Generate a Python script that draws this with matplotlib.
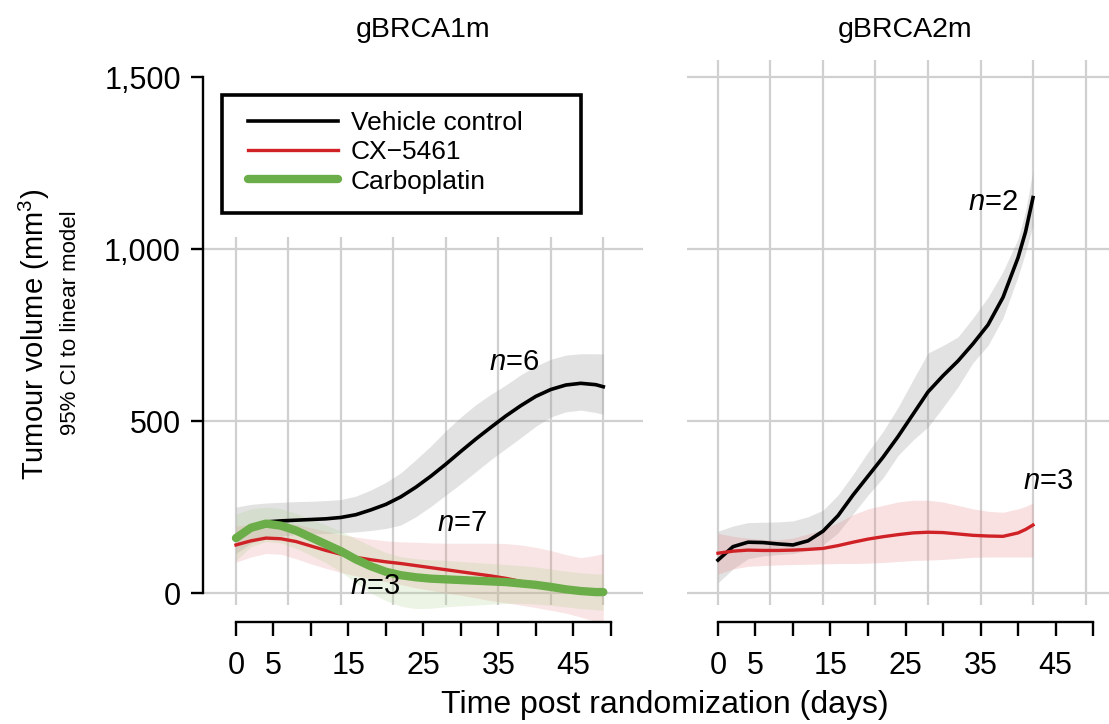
import numpy as np
import matplotlib
matplotlib.use("Agg")
from matplotlib import pyplot as plt
from matplotlib import transforms
from matplotlib.patches import Rectangle

plt.rcParams['font.family'] = ['Liberation Sans', 'DejaVu Sans']
plt.rcParams['mathtext.fontset'] = 'custom'
plt.rcParams['mathtext.rm'] = 'Liberation Sans'
plt.rcParams['mathtext.it'] = 'Liberation Sans:italic'

# gBRCA1m panel
days1 = [0, 2, 4, 6, 8, 10, 12, 14, 16, 18, 20, 22, 24, 26, 28, 30, 32, 34, 36, 38, 40, 42, 44, 46, 48, 49]
veh1 = [165, 195, 207, 210, 212, 214, 216, 220, 228, 242, 258, 280, 308, 340, 375, 412,
        448, 482, 515, 545, 572, 592, 605, 610, 606, 600]
veh1_hi = [250, 258, 262, 264, 266, 267, 269, 272, 282, 300, 322, 350, 388, 428, 472, 512,
           548, 578, 605, 635, 660, 680, 692, 696, 696, 695]
veh1_lo = [115, 145, 160, 166, 170, 172, 173, 175, 178, 182, 188, 198, 222, 252, 285, 318,
           353, 388, 420, 452, 485, 512, 527, 532, 525, 520]
cx1 = [140, 152, 160, 158, 150, 137, 124, 113, 104, 97, 91, 86, 80, 74, 68, 62,
       56, 50, 43, 34, 25, 18, 12, 8, 5, 5]
cx1_hi = [195, 200, 205, 206, 200, 190, 180, 170, 163, 157, 152, 149, 148, 146, 145, 145,
          145, 145, 144, 140, 133, 124, 112, 103, 110, 115]
cx1_lo = [90, 105, 115, 113, 100, 85, 72, 60, 50, 41, 33, 25, 15, 8, 0, -6,
          -14, -22, -28, -35, -42, -50, -58, -70, -82, -90]
carbo1 = [160, 190, 202, 196, 182, 162, 142, 122, 98, 78, 62, 52, 46, 42, 40, 38,
          36, 34, 32, 28, 24, 18, 11, 6, 3, 3]
carbo1_hi = [230, 245, 250, 246, 232, 215, 198, 180, 158, 137, 118, 106, 100, 97, 95, 92,
             89, 86, 83, 80, 76, 70, 64, 59, 56, 55]
carbo1_lo = [95, 135, 150, 146, 130, 110, 88, 62, 30, 0, -22, -38, -45, -44, -40, -37,
             -35, -32, -30, -30, -32, -35, -40, -45, -48, -50]

# gBRCA2m panel
days2 = [0, 2, 4, 6, 8, 10, 12, 14, 16, 18, 20, 22, 24, 26, 28, 30, 32, 34, 36, 38, 40, 41, 42]
veh2 = [96, 135, 148, 147, 143, 140, 152, 180, 225, 285, 340, 395, 455, 520, 585, 632,
        675, 725, 780, 860, 975, 1050, 1150]
veh2_hi = [180, 195, 205, 206, 207, 210, 222, 241, 285, 345, 410, 470, 540, 620, 698, 720,
           745, 800, 860, 935, 1030, 1110, 1230]
veh2_lo = [30, 70, 100, 108, 112, 115, 125, 140, 175, 230, 285, 335, 400, 445, 483, 540,
           600, 670, 720, 800, 920, 990, 1070]
cx2 = [116, 122, 125, 124, 124, 125, 127, 130, 138, 148, 157, 164, 170, 175, 177, 176,
       172, 168, 166, 165, 175, 185, 198]
cx2_hi = [174, 165, 160, 156, 155, 160, 172, 185, 205, 228, 245, 255, 265, 270, 270, 265,
          255, 245, 238, 235, 245, 252, 262]
cx2_lo = [55, 70, 78, 80, 82, 83, 84, 85, 86, 86, 87, 89, 92, 95, 96, 98,
          101, 104, 105, 105, 105, 105, 105]

xticks = [0, 5, 10, 15, 20, 25, 30, 35, 40, 45, 50]
xticklabels = ['0', '5', '', '15', '', '25', '', '35', '', '45', '']
yticks = [0, 500, 1000, 1500]
yticklabels = ['0', '500', '1,000', '1,500']

black = '#000000'
red = '#d02226'
green = '#6bad48'
gridc = '#d0d0d0'

fig = plt.figure(figsize=(11.09, 7.24), dpi=100)
ax1 = fig.add_axes([203 / 1109, 102 / 724, 440 / 1109, 562 / 724])
ax2 = fig.add_axes([687 / 1109, 102 / 724, 422 / 1109, 562 / 724])
ax1.set_xlim(-4.4, 54.3)
ax2.set_xlim(-4.13, 52.13)

for ax, gtop, hl in [(ax1, 1035, [0, 500, 1000]), (ax2, 1550, [0, 500, 1000, 1500])]:
    ax.set_ylim(-84, 1550)
    x0, x1 = ax.get_xlim()
    ax.vlines(np.arange(0, 50, 7), -35, gtop, color=gridc, lw=1.6, zorder=0)
    ax.hlines(hl, x0, x1, color=gridc, lw=1.6, zorder=0)
    for s in ['top', 'right', 'left']:
        ax.spines[s].set_visible(False)
    ax.spines['bottom'].set_bounds(0, 50)
    ax.spines['bottom'].set_linewidth(1.7)
    ax.set_xticks(xticks)
    ax.set_xticklabels(xticklabels)
    ax.tick_params(axis='x', direction='out', length=10, width=1.7, pad=11, labelsize=22)

ax1.spines['left'].set_visible(True)
ax1.spines['left'].set_bounds(0, 1500)
ax1.spines['left'].set_linewidth(1.7)
ax1.set_yticks(yticks)
ax1.set_yticklabels(yticklabels)
ax1.tick_params(axis='y', direction='out', length=9, width=1.7, pad=7, labelsize=22)
ax2.set_yticks([])

# confidence bands
ax1.fill_between(days1, veh1_lo, veh1_hi, color='#9a9a9a', alpha=0.28, lw=0)
ax1.fill_between(days1, cx1_lo, cx1_hi, color='#e88a8a', alpha=0.22, lw=0)
ax1.fill_between(days1, carbo1_lo, carbo1_hi, color='#a8d08a', alpha=0.22, lw=0)
ax2.fill_between(days2, veh2_lo, veh2_hi, color='#9a9a9a', alpha=0.28, lw=0)
ax2.fill_between(days2, cx2_lo, cx2_hi, color='#e88a8a', alpha=0.25, lw=0)

ax1.plot(days1, veh1, color=black, lw=2.6, label='Vehicle control')
ax1.plot(days1, cx1, color=red, lw=2.4, label='CX\u22125461')
ax1.plot(days1, carbo1, color=green, lw=6, solid_capstyle='round', label='Carboplatin')
ax2.plot(days2, veh2, color=black, lw=2.6)
ax2.plot(days2, cx2, color=red, lw=2.4)

ax1.text(37.1, 671, '$n$=6', fontsize=21, ha='center', va='center')
ax1.text(30.2, 203, '$n$=7', fontsize=21, ha='center', va='center')
ax1.text(18.6, 22, '$n$=3', fontsize=21, ha='center', va='center')
ax2.text(36.7, 1137, '$n$=2', fontsize=21, ha='center', va='center')
ax2.text(44.0, 326, '$n$=3', fontsize=21, ha='center', va='center')

for ax, title in [(ax1, 'gBRCA1m'), (ax2, 'gBRCA2m')]:
    tr = transforms.blended_transform_factory(ax.transData, fig.transFigure)
    ax.text(25, 1 - 30 / 724, title, transform=tr, fontsize=20.5, ha='center', va='center')

# legend box
ax1.add_patch(Rectangle((222 / 1109, 1 - 213 / 724), 359 / 1109, 118 / 724,
                        transform=fig.transFigure, facecolor='white', edgecolor='black',
                        lw=2.6, clip_on=False, zorder=4))
leg = ax1.legend(loc='upper left', bbox_to_anchor=(248 / 1109, 1 - 111 / 724),
                 bbox_transform=fig.transFigure, fontsize=19, handlelength=3.4,
                 handletextpad=0.5, labelspacing=0.2, borderpad=0, borderaxespad=0,
                 frameon=False)
leg.set_zorder(5)

fig.text(34 / 1109, 1 - 334 / 724, 'Tumour volume (mm$^3$)', rotation=90, fontsize=21,
         ha='center', va='center')
fig.text(70 / 1109, 1 - 323 / 724, '95% CI to linear model', rotation=90, fontsize=16,
         ha='center', va='center')
fig.text(665 / 1109, 1 - 705 / 724, 'Time post randomization (days)', fontsize=23,
         ha='center', va='center')

fig.savefig('out.png', dpi=100)
